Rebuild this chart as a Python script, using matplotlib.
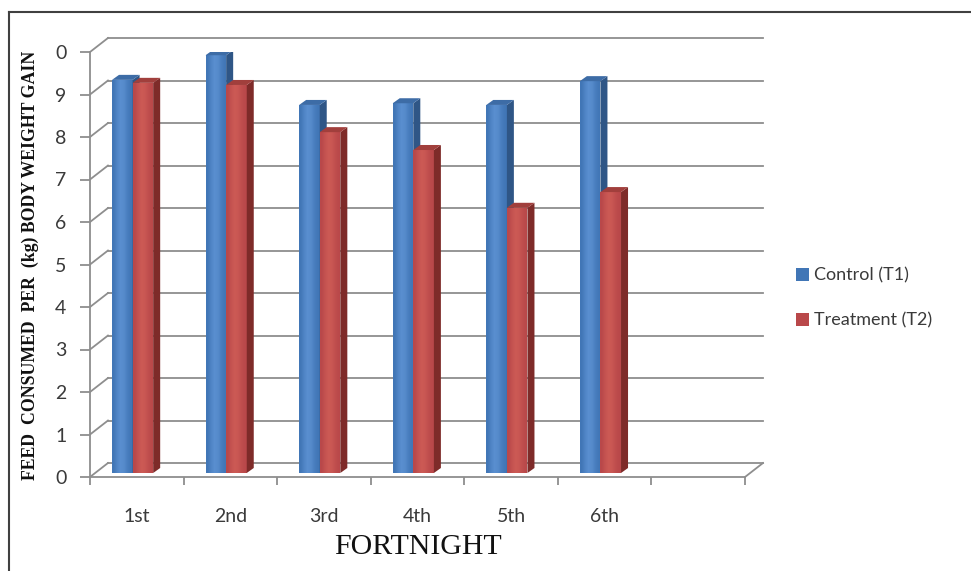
import matplotlib
matplotlib.use('Agg')
import numpy as np
import matplotlib.pyplot as plt
from matplotlib.patches import Polygon, Patch
from matplotlib.lines import Line2D
from matplotlib.colors import LinearSegmentedColormap

categories = ['1st', '2nd', '3rd', '4th', '5th', '6th']
control_t1 = [9.25, 9.83, 8.66, 8.70, 8.66, 9.22]
treatment_t2 = [9.18, 9.13, 8.02, 7.60, 6.24, 6.61]
y_tick_labels = ['0', '1', '2', '3', '4', '5', '6', '7', '8', '9', '0']
n_slots = 7

# depth of the floor / walls (data units) and bar geometry
DX, DY = 0.192, 0.329
BASE = 0.094
BAR_W = 0.22
BAR_LEFT = 0.235
SDX, SDY = 0.075, 0.118

# (front dark, front light, side, top)
blue = ('#4176b6', '#5a8fd0', '#2f5686', '#3d6ca6')
red = ('#b9484a', '#cc5a55', '#7e2b29', '#a13f3c')
grid_col = '#8e8e8e'
text_col = '#3a3a3a'

fig = plt.figure(figsize=(9.71, 5.71), dpi=100)
ax = fig.add_axes([90 / 971, 94 / 571, 655 / 971, 425 / 571])
ax.set_xlim(0, n_slots)
ax.set_ylim(0, 10)
ax.patch.set_visible(False)


def line(xs, ys, **kw):
    ax.add_line(Line2D(xs, ys, color=grid_col, lw=1.3, clip_on=False, **kw))


# back wall gridlines and side wall
for v in range(0, 11):
    line([DX, n_slots + DX], [v + DY, v + DY], zorder=1)
    line([0, DX], [v, v + DY], zorder=1)
# floor
line([n_slots, n_slots + DX], [0, DY], zorder=1)

grad = np.array([[0.0, 0.6, 1.0, 0.8, 0.3, 0.0]])


def bar3d(x0, val, cols, z):
    dark, light, side, top = cols
    x1 = x0 + BAR_W
    y0, y1 = BASE, BASE + val
    face = Polygon([(x0, y0), (x1, y0), (x1, y1), (x0, y1)],
                   closed=True, fc=dark, ec='none', zorder=z)
    ax.add_patch(face)
    cmap = LinearSegmentedColormap.from_list('f', [dark, light])
    im = ax.imshow(grad, cmap=cmap, extent=(x0, x1, y0, y1), aspect='auto',
                   interpolation='bilinear', zorder=z, vmin=0, vmax=1)
    im.set_clip_path(face)
    ax.add_patch(Polygon([(x1, y0), (x1 + SDX, y0 + SDY), (x1 + SDX, y1 + SDY), (x1, y1)],
                         closed=True, fc=side, ec='none', zorder=z))
    ax.add_patch(Polygon([(x0, y1), (x1, y1), (x1 + SDX, y1 + SDY), (x0 + SDX, y1 + SDY)],
                         closed=True, fc=top, ec='none', zorder=z))


for i in range(len(categories)):
    bar3d(i + BAR_LEFT, control_t1[i], blue, 3)
    bar3d(i + BAR_LEFT + BAR_W, treatment_t2[i], red, 4)

ax.set_xlim(0, n_slots)
ax.set_ylim(0, 10)

for s in ['top', 'right']:
    ax.spines[s].set_visible(False)
for s in ['left', 'bottom']:
    ax.spines[s].set_color(grid_col)
    ax.spines[s].set_linewidth(1.3)

ax.set_yticks(range(0, 11))
ax.set_yticklabels(y_tick_labels, fontsize=14, color=text_col, family='Lato')
ax.tick_params(axis='y', length=7, color=grid_col, width=1.3, pad=10)

ax.set_xticks([i + 0.5 for i in range(len(categories))])
ax.set_xticklabels(categories, fontsize=14, color=text_col, family='Lato')
ax.set_xticks(range(0, n_slots + 1), minor=True)
ax.tick_params(axis='x', which='major', length=0, pad=22)
ax.tick_params(axis='x', which='minor', length=6, color=grid_col, width=1.3)

ax.set_xlabel('FORTNIGHT', fontsize=21.5, family='Liberation Serif', labelpad=7, color='#111111')
fig.text(30 / 971, 1 - 265 / 571, 'FEED  CONSUMED  PER  (kg) BODY WEIGHT GAIN',
         rotation=90, ha='center', va='center', fontsize=12.8,
         family='Liberation Serif', fontweight='bold', color='#111111')

handles = [Patch(fc=blue[0], ec='none'), Patch(fc=red[0], ec='none')]
fig.legend(handles, ['Control (T1)', 'Treatment (T2)'], loc='center left',
           bbox_to_anchor=(780 / 971, 1 - 298 / 571), frameon=False,
           handlelength=0.7, handleheight=0.7, handletextpad=0.3,
           labelspacing=1.6, prop={'family': 'Lato', 'size': 13},
           labelcolor=text_col)

# outer chart border
fig.add_artist(Line2D([9 / 971, 9 / 971], [0, 1 - 12 / 571], color='#404040', lw=1.5,
                      transform=fig.transFigure))
fig.add_artist(Line2D([9 / 971, 1], [1 - 12 / 571, 1 - 12 / 571], color='#404040', lw=1.5,
                      transform=fig.transFigure))

fig.savefig('out.png', dpi=100)
